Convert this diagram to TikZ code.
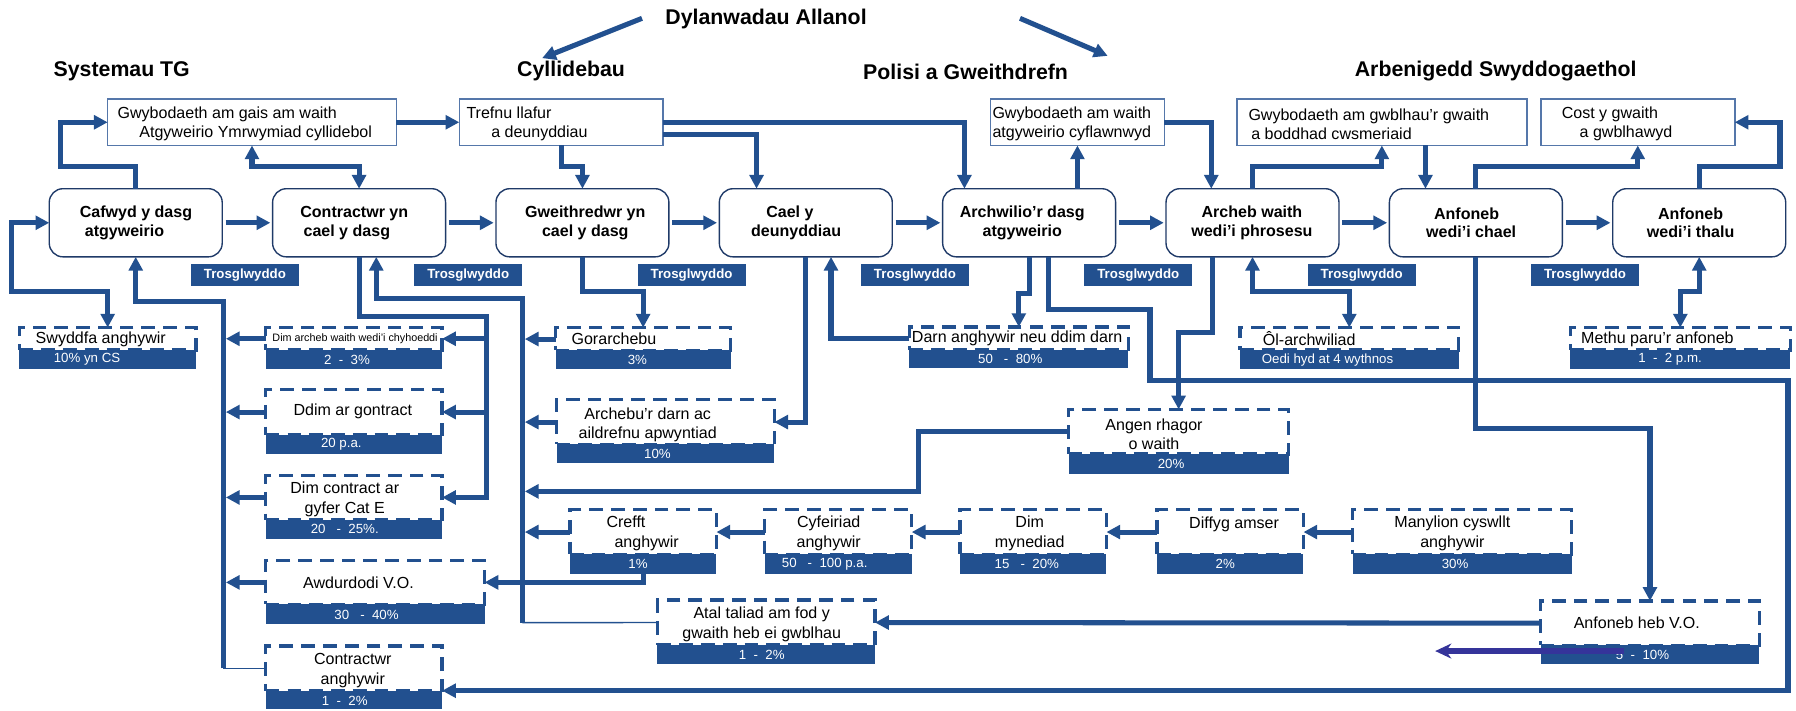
\documentclass[tikz,border=0pt]{standalone}
\usepackage{fontspec}
\setmainfont{Liberation Sans}
\usetikzlibrary{arrows.meta,calc,fit}

\definecolor{fblue}{HTML}{22508F}
\definecolor{edge}{HTML}{1F3A68}
\definecolor{tbord}{HTML}{5577AA}
\definecolor{purp}{HTML}{35349A}

\tikzset{
  every node/.style={inner sep=0pt, outer sep=0pt},
  mbox/.style={draw=edge, line width=0.6pt, rounded corners=6pt, fill=white,
               minimum width=75.5pt, minimum height=29.75pt},
  mtxt/.style={font=\bfseries\fontsize{7}{8.2}\selectfont, align=center},
  ibox/.style={draw=tbord, line width=0.7pt, fill=white},
  itxt/.style={font=\fontsize{7}{8.3}\selectfont, align=left, anchor=west},
  title/.style={font=\bfseries\fontsize{9.3}{11}\selectfont},
  tag/.style={fill=fblue, text=white, font=\bfseries\fontsize{5.8}{7}\selectfont,
              minimum width=47.15pt, minimum height=9.4pt},
  dbox/.style={draw=fblue, line width=1.5pt, dash pattern=on 6pt off 3.5pt, fill=white},
  bar/.style={fill=fblue},
  ftxt/.style={font=\fontsize{7}{8.4}\selectfont, align=center},
  stxt/.style={font=\fontsize{4.7}{5.6}\selectfont},
  btxt/.style={font=\fontsize{5.8}{7}\selectfont, text=white},
  flow/.style={draw=fblue, line width=2.2pt},
  arr/.style={flow, -{Triangle[length=6pt,width=6pt]}},
  dbl/.style={flow, {Triangle[length=6pt,width=6pt]}-{Triangle[length=6pt,width=6pt]}},
  fine/.style={draw=fblue, line width=0.6pt},
}

% dashed problem box with its figure bar underneath
\newcommand\failbox[6]{%
  \node[dbox, fit={(#2,#3) (#4,#5)}] (#1) {};
  \node[bar, fit={(#2,#5) (#4,#6)}] (#1b) {};
}

\begin{document}
\begin{tikzpicture}[x=0.5pt, y=-0.5pt]
\useasboundingbox (0,0) rectangle (1568,620);
\fill[white] (0,0) rectangle (1568,620);

% ---------- headings ----------
\node[title] (tdyl) at (668.8,16.8) {Dylanwadau Allanol};
\node[title] (tsys) at (106.3,62.4) {Systemau TG};
\node[title] (tcyl) at (498.6,62.4) {Cyllidebau};
\node[title] (tpol) at (843,62.4) {Polisi a Gweithdrefn};
\node[title] (tarb) at (1305.8,62.4) {Arbenigedd Swyddogaethol};

\coordinate (a1s) at (560.5,16);   \coordinate (a1e) at (473.3,50.8);
\coordinate (a2s) at (890.5,16);   \coordinate (a2e) at (967,48.8);
\draw[arr] (a1s) -- (a1e);
\draw[arr] (a2s) -- (a2e);

% ---------- information boxes ----------
\node[ibox, fit={(94,86.5) (346,127)}] (b1) {};
\node[itxt] (b1t) at (102.7,108.4) {Gwybodaeth am gais am waith\\\hspace*{9.5pt}Atgyweirio Ymrwymiad cyllidebol};
\node[ibox, fit={(401,86.5) (578.8,127)}] (b2) {};
\node[itxt] (b2t) at (407.3,108.4) {Trefnu llafur\\\hspace*{10.8pt}a deunyddiau};
\node[ibox, fit={(864.8,86.5) (1016.5,127)}] (b3) {};
\node[itxt] (b3t) at (866.5,108.4) {Gwybodaeth am waith\\atgyweirio cyflawnwyd};
\node[ibox, fit={(1080,86.5) (1332.9,127)}] (b4) {};
\node[itxt] (b4t) at (1090,108.4) {Gwybodaeth am gwblhau’r gwaith\\\hspace*{1.2pt}a boddhad cwsmeriaid};
\node[ibox, fit={(1345.2,86.5) (1514.5,127)}] (b5) {};
\node[itxt] (b5t) at (1363.5,108.4) {Cost y gwaith\\\hspace*{7.8pt}a gwblhawyd};

% ---------- process steps ----------
\node[mbox] (m1) at (118.5,194.5) {};
\node[mbox] (m2) at (313.5,194.5) {};
\node[mbox] (m3) at (508.5,194.5) {};
\node[mbox] (m4) at (703.5,194.5) {};
\node[mbox] (m5) at (898.5,194.5) {};
\node[mbox] (m6) at (1093.5,194.5) {};
\node[mbox] (m7) at (1288.5,194.5) {};
\node[mbox] (m8) at (1483.5,194.5) {};
\node[mtxt] (m1t) at (118.7,194.5) {Cafwyd y dasg\\atgyweirio\hspace*{10pt}};
\node[mtxt] (m2t) at (309.3,194.5) {Contractwr yn\\cael y dasg\hspace*{6.5pt}};
\node[mtxt] (m3t) at (511,194.5) {Gweithredwr yn\\cael y dasg};
\node[mtxt] (m4t) at (695,194.5) {Cael y\hspace*{5.4pt}\\deunyddiau};
\node[mtxt] (m5t) at (892.5,194.5) {Archwilio’r dasg\\atgyweirio};
\node[mtxt] (m6t) at (1093,194.5) {Archeb waith\\wedi’i phrosesu};
\node[mtxt] (m7t) at (1284.4,194.5) {Anfoneb\hspace*{4pt}\\wedi’i chael};
\node[mtxt] (m8t) at (1476,194.5) {Anfoneb\\wedi’i thalu};

% hand-over tags
\foreach \k in {0,...,6}
  \node[tag] (tg\k) at ({213.8+195*\k},240.3) {Trosglwyddo};

% ---------- problem boxes ----------
\failbox{swy}{17}{286}{171}{305.5}{322}
\node[ftxt] (swyt) at (88,296) {Swyddfa anghywir};
\node[btxt] (swyv) at (76,314) {10\% yn CS};

\failbox{dima}{232}{286}{386}{305.5}{322}
\node[stxt] (dimat) at (310,295.5) {Dim archeb waith wedi’i chyhoeddi};
\node[btxt] (dimav) at (303,314) {2 ~-~ 3\%};

\failbox{ddim}{232}{340}{386}{379.5}{396}
\node[ftxt] (ddimt) at (308,359) {Ddim ar gontract};
\node[btxt] (ddimv) at (298,388) {20 p.a.};

\failbox{cate}{232}{415}{386}{453.6}{470.4}
\node[ftxt] (catet) at (301,436) {Dim contract ar\\gyfer Cat E};
\node[btxt] (catev) at (301,462) {20 ~~-~ 25\%.};

\failbox{vo}{232}{489.3}{423}{527.6}{545}
\node[ftxt] (vot) at (313,508.5) {Awdurdodi V.O.};
\node[btxt] (vov) at (320,536.5) {30 ~~-~ 40\%};

\failbox{conw}{232}{564}{386}{603}{619}
\node[ftxt] (conwt) at (308,585.5) {Contractwr\\anghywir};
\node[btxt] (conwv) at (301,611.5) {1 ~-~ 2\%};

\failbox{gor}{485}{286}{638}{306}{322}
\node[ftxt] (gort) at (536,296) {Gorarchebu};
\node[btxt] (gorv) at (556.5,314) {3\%};

\failbox{arch}{486}{349}{676}{388}{404}
\node[ftxt] (archt) at (565.5,370.7) {Archebu’r darn ac\\aildrefnu apwyntiad};
\node[btxt] (archv) at (574,396) {10\%};

\failbox{cref}{497.5}{445}{625.5}{484}{501}
\node[ftxt] (creft) at (564.5,465.7) {Crefft\hspace*{18pt}\\anghywir};
\node[btxt] (crefv) at (557,492.5) {1\%};

\failbox{cyf}{667.5}{445}{796}{484}{501}
\node[ftxt] (cyft) at (723.5,465.7) {Cyfeiriad\\anghywir};
\node[btxt] (cyfv) at (720,492.5) {50 ~~-~ 100 p.a.};

\failbox{dimm}{838}{445}{966}{484}{501}
\node[ftxt] (dimmt) at (899,465.7) {Dim\\mynediad};
\node[btxt] (dimmv) at (896.5,492.5) {15 ~~-~ 20\%};

\failbox{dif}{1010}{445}{1138}{484}{501}
\node[ftxt] (dift) at (1077.4,458) {Diffyg amser};
\node[btxt] (difv) at (1069.7,492.5) {2\%};

\failbox{many}{1181}{445}{1372}{484}{501}
\node[ftxt] (manyt) at (1268,465.7) {Manylion cyswllt\\anghywir};
\node[btxt] (manyv) at (1270.4,492.5) {30\%};

\failbox{atal}{574}{524}{764}{563}{580}
\node[ftxt] (atalt) at (665,545) {Atal taliad am fod y\\gwaith heb ei gwblhau};
\node[btxt] (atalv) at (665,571.5) {1 ~-~ 2\%};

\failbox{darn}{794}{285.5}{985}{305.3}{321.3}
\node[ftxt] (darnt) at (888,295.5) {Darn anghywir neu ddim darn};
\node[btxt] (darnv) at (882,313.3) {50 ~~-~ 80\%};

\failbox{angen}{933}{357.4}{1125}{396.4}{414}
\node[ftxt] (angent) at (1007.5,379) {Angen rhagor\\o waith};
\node[btxt] (angenv) at (1022.4,405.2) {20\%};

\failbox{ol}{1082.5}{286}{1273.5}{305.6}{322}
\node[ftxt] (olt) at (1143,296) {Ôl-archwiliad};
\node[btxt] (olv) at (1159,314) {Oedi hyd at 4 wythnos};

\failbox{methu}{1371}{286}{1563}{305.6}{322}
\node[ftxt] (methut) at (1447,296) {Methu paru’r anfoneb};
\node[btxt] (methuv) at (1458,314) {1 ~-~ 2 p.m.};

\failbox{heb}{1345}{524.6}{1536}{563.5}{580}
\node[ftxt] (hebt) at (1429,544) {Anfoneb heb V.O.};
\node[btxt] (hebv) at (1434,572) {5 ~-~ 10\%};

% ---------- helper points on the collecting lines ----------
\coordinate (m4in) at ($(m4.north)+(-43,0)$);
\coordinate (m5in) at ($(m5.north)+(-56.5,0)$);
\coordinate (m6in) at ($(m6.north)+(-36,0)$);
\coordinate (m7in) at ($(m7.north)+(-44,0)$);
\coordinate (m2in) at ($(m2.south)+(15,0)$);
\coordinate (m4b) at ($(m4.south)+(22,0)$);
\coordinate (m5b) at ($(m5.south)+(17,0)$);
\coordinate (m6b) at ($(m6.south)+(-35,0)$);
\coordinate (j1) at (195,583.5);
\coordinate (j2) at (425,276.2);
\coordinate (j3) at (456,543.6);

% ---------- upper connectors ----------
\draw[arr] (m1.north) |- (53,145) |- (b1.west);
\draw[arr] (b1.east) -- (b2.west);
\draw[dbl] (b1.south) -- (b1.south |- 0,145) -| (m2.north);
\draw[arr] (b2.south) -- (b2.south |- 0,145) -| (m3.north);
\draw[arr] (b2.east) -| (m5in);
\draw[arr] ($(b2.east)+(0,10.8)$) -| (m4in);
\draw[arr] (b3.south |- m5.north) -- (b3.south);
\draw[arr] (b3.east) -| (m6in);
\draw[arr] (m6.north) -- (m6.north |- 0,145) -| (b4.south);
\draw[arr] (b4.south -| m7in) -- (m7in);
\draw[arr] (m7.north) -- (m7.north |- 0,145) -| (b5.south);
\draw[arr] (m8.north) -- (m8.north |- 0,145) -- (1554,145) |- (b5.east);

% main sequence
\foreach \a/\b in {m1/m2,m2/m3,m3/m4,m4/m5,m5/m6,m6/m7,m7/m8}
  \draw[arr, shorten <=1.5pt, shorten >=1pt] (\a.east) -- (\b.west);

% ---------- lower connectors ----------
\draw[dbl] (m1.west) -| (10,254.6) -| (swy.north);

\draw[fine] (conw.west) -- (j1);
\draw[arr] (j1) |- (m1.south |- 0,263.3) -- (m1.south);
\foreach \n in {dima,ddim,cate,vo}
  \draw[arr, shorten >=1.1pt] (\n.west) -- (\n.west -| j1);

\draw[arr] (m2.south) |- (j2) |- (cate.east);
\foreach \n in {dima,ddim}
  \draw[arr] (j2 |- \n.east) -- (\n.east);

\draw[fine] (atal.west) -- (j3);
\draw[arr] (j3) |- (m2in |- 0,260.3) -- (m2in);
\foreach \n in {gor,arch,cref}
  \draw[arr, shorten >=1.1pt] (\n.west) -- (\n.west -| j3);
\draw[arr, shorten >=1.1pt] (angen.west) -| (801.5,429) -- (j3 |- 0,429);

\draw[arr] (m3.south) -- (m3.south |- 0,254.6) -| (gor.north);
\draw[arr] (m4.south) |- (arch.east);
\draw[arr] (darn.west) -| (m4b);
\draw[arr] (m5.south) -- (m5.south |- 0,256) -| (darn.north);
\draw[arr] (m5b) |- (1004,270) |- (1561,332) |- (conw.south east);
\draw[arr] (m6b) -- (m6b |- 0,290.5) -| (angen.north);
\draw[dbl] (m6.south) -- (m6.south |- 0,254.6) -| (ol.north);
\draw[arr] (m7.south) -- (m7.south |- 0,374) -| (heb.north);
\draw[dbl] (m8.south) -- (m8.south |- 0,254.6) -| (methu.north);
\draw[arr] (heb.west) -- (atal.east);
\draw[arr] (crefb.south) |- (vo.east);
\foreach \a/\b in {cyf/cref,dimm/cyf,dif/dimm,many/dif}
  \draw[arr] (\a.west) -- (\b.east);

% purple pointer over the last figure bar
\coordinate (p1) at (1417.6,568.4);
\coordinate (p2) at (1253,568.4);
\draw[draw=purp, line width=2.4pt, -{Stealth[length=7pt,width=6.5pt]}] (p1) -- (p2);
\end{tikzpicture}
\end{document}
